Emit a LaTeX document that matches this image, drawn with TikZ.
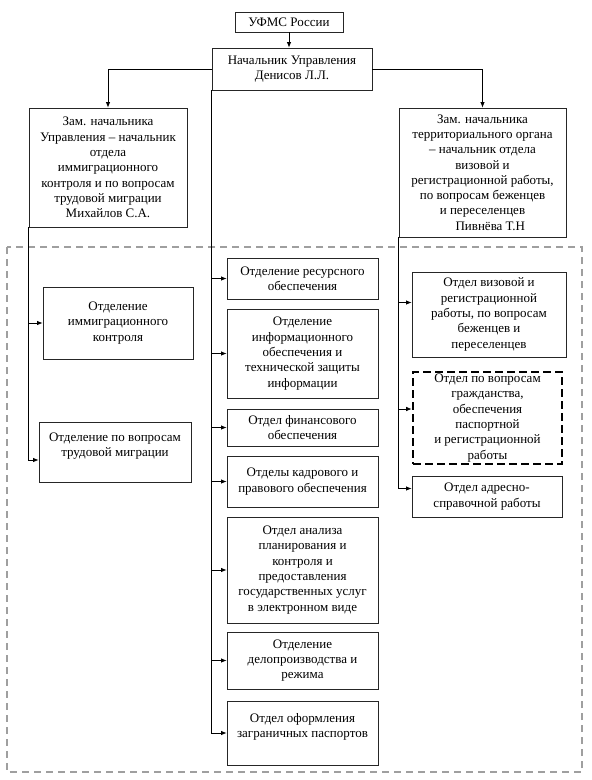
\documentclass[tikz,border=0pt]{standalone}
\usepackage{fontspec}
\setmainfont{Liberation Serif}
\usetikzlibrary{arrows.meta}

\begin{document}
\begin{tikzpicture}[x=1pt, y=-1pt,
    box/.style={rectangle, draw=black!85, line width=0.8pt, align=center, inner sep=2pt, fill=white, font=\fontsize{13}{15.3}\selectfont},
    cbox/.style={box, minimum width=151pt},
    rbox/.style={box, minimum width=150pt},
    keybox/.style={rbox, draw=black, line width=2.6pt, dash pattern=on 8pt off 4pt},
    link/.style={draw=black, line width=0.8pt},
    arr/.style={link, -{Latex[length=5.5pt, width=4.5pt]}},
    frame/.style={draw=gray!75, line width=1.4pt, dash pattern=on 7pt off 5pt}
]
    \useasboundingbox (0,0) rectangle (592,780);
    % subordinate units frame
    \draw[frame] (7,247) rectangle (582,772);
    % top of the hierarchy
    \node[box, minimum width=108pt, minimum height=20pt] (ufms) at (289, 22) {УФМС России};
    \node[box, minimum width=160pt, minimum height=42pt] (head) at (292, 69) {Начальник Управления\\Денисов Л.Л.};
    \node[box, minimum width=158pt, minimum height=119pt] (zam1) at (108, 167.5) {Зам. начальника\\Управления – начальник\\отдела\\иммиграционного\\контроля и по вопросам\\трудовой миграции\\Михайлов С.А.};
    \node[box, minimum width=167pt, minimum height=129pt] (zam2) at (482.5, 172.5) {Зам. начальника\\территориального органа\\– начальник отдела\\визовой и\\регистрационной  работы,\\по вопросам беженцев\\и переселенцев\\\hspace*{1.2em}Пивнёва Т.Н};
    % left branch
    \node[box, minimum width=150pt, minimum height=72pt] (immig) at (118, 323) {Отделение\\иммиграционного\\контроля};
    \node[box, minimum width=152pt, minimum height=60pt] (trud) at (115, 452) {Отделение по вопросам\\трудовой миграции\\[0pt]};
    % centre branch
    \node[cbox, minimum height=41pt] (ress) at (302.5, 278.5) {Отделение ресурсного\\обеспечения};
    \node[cbox, minimum height=89pt] (info) at (302.5, 353.5) {Отделение\\информационного\\обеспечения и\\технической защиты\\информации};
    \node[cbox, minimum height=37pt] (fin) at (302.5, 427.5) {Отдел финансового\\обеспечения};
    \node[cbox, minimum height=51pt] (kadr) at (302.5, 481.5) {Отделы кадрового и\\правового обеспечения};
    \node[cbox, minimum height=106pt] (anal) at (302.5, 570) {Отдел анализа\\планирования и\\контроля и\\предоставления\\государственных услуг\\в электронном виде};
    \node[cbox, minimum height=57pt] (delo) at (302.5, 660.5) {Отделение\\делопроизводства и\\режима};
    \node[cbox, minimum height=64pt] (pasp) at (302.5, 733) {Отдел оформления\\заграничных  паспортов\\[0pt]};
    % right branch
    \node[rbox, minimum width=154pt, minimum height=85pt] (viza) at (489, 314.5) {Отдел визовой и\\регистрационной\\работы, по вопросам\\беженцев  и\\переселенцев};
    \node[keybox, minimum width=149pt, minimum height=90pt] (grazh) at (487.5, 418) {Отдел по вопросам\\гражданства,\\обеспечения\\паспортной\\и регистрационной\\работы};
    \node[rbox, minimum height=41pt] (adr) at (487, 496.5) {Отдел адресно-\\справочной работы};
    \coordinate (trudIn) at ([yshift=-8pt]trud.west);
    \coordinate (vizaIn) at ([yshift=12pt]viza.west);
    \coordinate (grazhIn) at ([yshift=9pt]grazh.west);
    \coordinate (adrIn) at ([yshift=8pt]adr.west);
    % links from the top
    \draw[arr] (ufms.south) -- (ufms.south |- head.north);
    \draw[arr] (head.west) -| (zam1.north);
    \draw[arr] (head.east) -| (zam2.north);
    % left links
    \draw[arr] (zam1.south west) |- (trudIn);
    \draw[arr] (zam1.south west |- immig.west) -- (immig.west);
    % centre links
    \draw[arr] (head.south west) |- (pasp.west);
    \foreach \n in {ress, info, fin, kadr, anal, delo}
        \draw[arr] (head.south west |- \n.west) -- (\n.west);
    % right links
    \draw[arr] (zam2.south west) |- (adrIn);
    \draw[arr] (zam2.south west |- vizaIn) -- (vizaIn);
    \draw[arr] (zam2.south west |- grazhIn) -- (grazhIn);
\end{tikzpicture}
\end{document}
